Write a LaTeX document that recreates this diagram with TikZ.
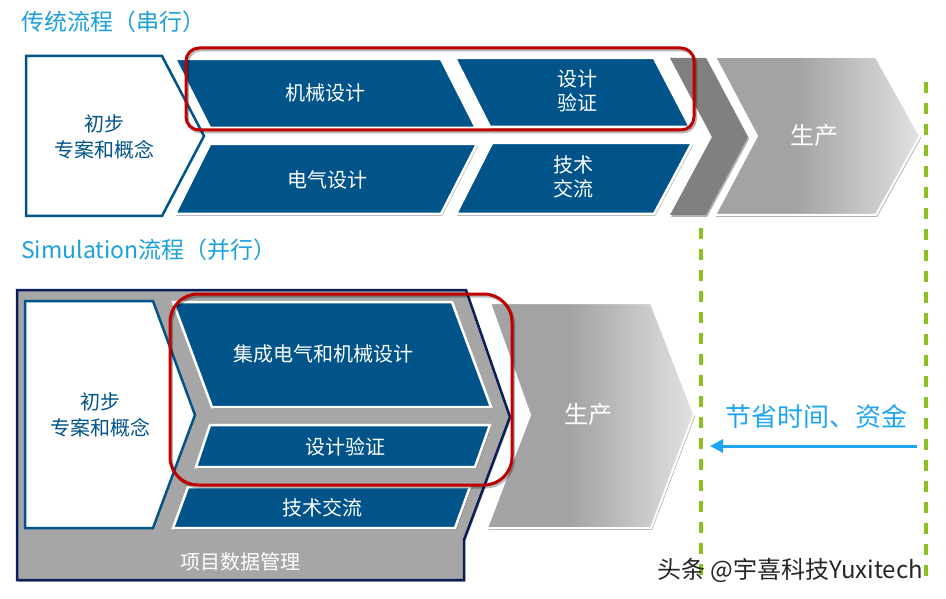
\documentclass[tikz,border=0pt]{standalone}
\usepackage{fontspec}
\setmainfont{Noto Sans CJK SC}
\usetikzlibrary{shadows,arrows.meta}
\definecolor{dblue}{RGB}{0,84,138}
\definecolor{tblue}{RGB}{28,160,220}
\definecolor{arrblue}{RGB}{30,165,245}
\definecolor{navy}{RGB}{12,30,90}
\definecolor{framegray}{RGB}{166,166,166}
\definecolor{dgray}{RGB}{128,128,128}
\definecolor{gA}{RGB}{163,163,163}
\definecolor{gB}{RGB}{226,226,226}
\definecolor{dgreen}{RGB}{140,192,30}
\definecolor{dred}{RGB}{192,0,0}
\pgfdeclarehorizontalshading{prodshade}{100bp}{color(0bp)=(gA); color(25bp)=(gA); color(45bp)=(gA); color(75bp)=(gB); color(100bp)=(gB)}
\tikzset{
  shd/.style={drop shadow={shadow xshift=1.2pt, shadow yshift=-1.8pt, opacity=0.3, fill=black}},
  bshape/.style={fill=dblue, draw=white, line width=2.5pt, line join=miter, shd},
  cshape/.style={fill=white, draw=dblue, line width=2.5pt},
  pshape/.style={shading=prodshade, draw=white, line width=2pt, shd},
  wtxt/.style={text=white, font=\fontsize{20}{24}\selectfont, align=center, inner sep=0pt},
  ctxt/.style={text=dblue, font=\fontsize{20}{26}\selectfont, align=center, inner sep=0pt},
  ptxt/.style={text=white, font=\fontsize{24}{28}\selectfont, inner sep=0pt},
  ttl/.style={text=tblue, font=\fontsize{23}{27}\selectfont, anchor=west, inner sep=0pt},
  redbox/.style={draw=dred, line width=3pt},
  redshadow/.style={draw=black, opacity=0.28, line width=3pt, xshift=1.5pt, yshift=-2pt},
  gdash/.style={draw=dgreen, line width=3.5pt, dash pattern=on 11pt off 10pt},
}
\begin{document}
\begin{tikzpicture}[x=1pt,y=-1pt]
\useasboundingbox (0,0) rectangle (946,599);
\fill[white] (0,0) rectangle (946,599);

% ---------- titles ----------
\node[ttl] (t1) at (21,22) {传统流程（串行）};
\node[ttl] (t2) at (21,250) {Simulation流程（并行）};

% ---------- top section ----------
\draw[cshape] (26,56) -- (162,56) -- (204,136) -- (162,216) -- (26,216) -- cycle;
\node[ctxt] (c1) at (104,137) {初步\\专案和概念};

\path[bshape] (175,59) -- (441,59) -- (476,128) -- (210,128) -- cycle;
\path[bshape] (210,144) -- (477,144) -- (441,214) -- (175,214) -- cycle;
\path[bshape] (455,58) -- (654,58) -- (690,127) -- (490,127) -- cycle;
\path[bshape] (492,143) -- (692,143) -- (654,214) -- (456,214) -- cycle;
\node[wtxt] (m1) at (325,93) {机械设计};
\node[wtxt] (e1) at (327,180) {电气设计};
\node[wtxt] (v1) at (577,91) {设计\\验证};
\node[wtxt] (k1) at (573,177) {技术\\交流};

\path[fill=dgray, shd] (670,58) -- (706,58) -- (748,137) -- (706,215) -- (670,215) -- (712,137) -- cycle;
\path[pshape] (715,57) -- (876,57) -- (920,136) -- (876,215) -- (715,215) -- (757,136) -- cycle;
\node[ptxt] (p1) at (814,135) {生产};

\draw[redshadow, rounded corners=13pt] (186,48) rectangle (694,130);
\draw[redbox, rounded corners=13pt] (186,48) rectangle (694,130);

% ---------- bottom section ----------
\draw[navy, line width=2.5pt, fill=framegray, shd] (17,290) -- (466,290) -- (510,417) -- (464,540) -- (464,580) -- (17,580) -- cycle;
\draw[cshape] (25,301) -- (153,301) -- (195,415) -- (153,528) -- (25,528) -- cycle;
\node[ctxt] (c2) at (100,415) {初步\\专案和概念};

\path[bshape] (173,302) -- (452,302) -- (491,407) -- (212,407) -- cycle;
\path[bshape] (210,425) -- (490,425) -- (475,467) -- (196,467) -- cycle;
\path[bshape] (188,487) -- (470,487) -- (455,528) -- (173,528) -- cycle;
\node[wtxt] (m2) at (323,354) {集成电气和机械设计};
\node[wtxt] (v2) at (345,447) {设计验证};
\node[wtxt] (k2) at (322,508) {技术交流};
\node[wtxt] (d2) at (240,562) {项目数据管理};

\path[pshape] (490,303) -- (651,303) -- (694,414) -- (651,528) -- (487,528) -- (530,415) -- cycle;
\node[ptxt] (p2) at (588,414) {生产};

\draw[redshadow, rounded corners=28pt] (170,294) rectangle (512,485);
\draw[redbox, rounded corners=28pt] (170,294) rectangle (512,485);

% ---------- dashed lines and arrow ----------
\draw[gdash] (701,228) -- (701,580);
\draw[gdash] (926,82) -- (926,580);
\coordinate (aS) at (917,446);
\coordinate (aE) at (710,446);
\draw[arrblue, line width=3pt, -{Triangle[length=13pt,width=13pt]}] (aS) -- (aE);
\node[text=arrblue, font=\fontsize{26}{30}\selectfont, inner sep=0pt] (sv) at (816,417) {节省时间、资金};

% ---------- watermark ----------
\node[text=black!85, font=\fontsize{24}{28}\selectfont, inner sep=0pt] (wm) at (790,570) {头条 @宇喜科技Yuxitech};
\end{tikzpicture}
\end{document}
